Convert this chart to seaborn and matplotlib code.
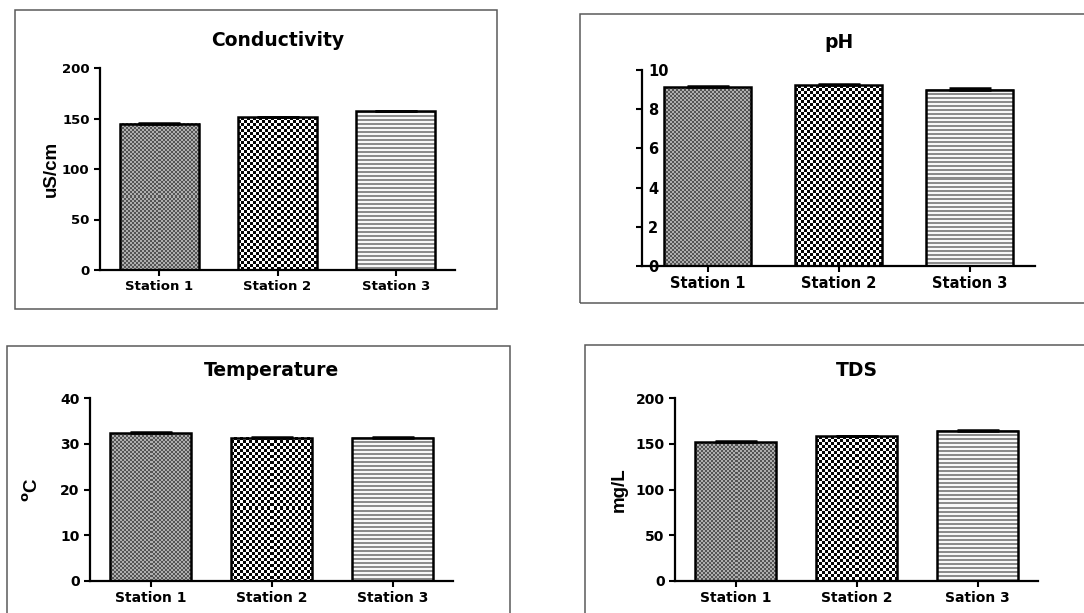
import numpy as np
import matplotlib
matplotlib.use("Agg")
import matplotlib.pyplot as plt
import seaborn as sns
from matplotlib.patches import Rectangle

# ---------------- data ----------------
stations = ["Station 1", "Station 2", "Station 3"]
stations_tds = ["Station 1", "Station 2", "Sation 3"]

cond_values = [145, 151, 157]
cond_err = [0.8, 0.7, 0.7]

ph_values = [9.12, 9.23, 8.98]
ph_err = [0.04, 0.06, 0.12]

temp_values = [32.3, 31.3, 31.3]
temp_err = [0.2, 0.15, 0.15]

tds_values = [151.5, 158, 164]
tds_err = [1.3, 0.6, 0.5]

cond_ticks = [0, 50, 100, 150, 200]
ph_ticks = [0, 2, 4, 6, 8, 10]
temp_ticks = [0, 10, 20, 30, 40]
tds_ticks = [0, 50, 100, 150, 200]

# ---------------- style ----------------
sns.set_style("ticks")
plt.rcParams["font.family"] = ["DejaVu Sans"]
plt.rcParams["axes.linewidth"] = 1.5
for key in ["text.color", "axes.labelcolor", "xtick.color", "ytick.color",
            "axes.edgecolor", "axes.titlecolor"]:
    plt.rcParams[key] = "black"

W, H = 1084, 613
fig = plt.figure(figsize=(W / 100, H / 100), dpi=100)
fig.patch.set_facecolor("white")


def px_axes(x0, x1, ytop, ybot):
    return fig.add_axes([x0 / W, 1 - ybot / H, (x1 - x0) / W, (ybot - ytop) / H])


def px_box(x0, y0, x1, y1):
    fig.add_artist(Rectangle((x0 / W, 1 - y1 / H), (x1 - x0) / W, (y1 - y0) / H,
                             transform=fig.transFigure, fill=False,
                             edgecolor="#5a5a5a", lw=1.1, zorder=0))


def texture(kind, wpx, hpx):
    yy, xx = np.mgrid[0:hpx, 0:wpx]
    if kind == 0:
        chk = (xx // 2 + yy // 2) % 2
        img = np.where(chk == 1, 0.33, 0.68)
    elif kind == 1:
        chk = (xx // 3 + yy // 3) % 2
        img = np.where(chk == 1, 0.02, 1.0)
    else:
        r = yy % 4
        img = np.where(r < 2, 0.55, 0.97)
    return img


def panel(ax, labels, values, err, ticks, title, ylabel, label_x,
          tick_fs=9.5, inside_labels=False):
    sns.barplot(x=labels, y=values, ax=ax, color="white", edgecolor="black",
                linewidth=1.8, width=0.67, saturation=1)
    ax.set_xlim(-0.5, len(labels) - 0.5)
    ax.set_ylim(ticks[0], ticks[-1])
    ax.set_yticks(ticks)
    # textures inside each bar
    for i, bar in enumerate(ax.patches):
        bar.set_facecolor("none")
        bar.set_zorder(3)
        x, w, h = bar.get_x(), bar.get_width(), bar.get_height()
        p0 = ax.transData.transform((x, 0))
        p1 = ax.transData.transform((x + w, h))
        wpx = max(int(round(abs(p1[0] - p0[0]))), 1)
        hpx = max(int(round(abs(p1[1] - p0[1]))), 1)
        ax.imshow(texture(i, wpx, hpx), cmap="gray", vmin=0, vmax=1,
                  extent=(x, x + w, 0, h), aspect="auto",
                  interpolation="nearest", origin="upper", zorder=2)
    ax.errorbar(x=np.arange(len(labels)), y=values,
                yerr=[np.zeros(len(labels)), err], fmt="none",
                ecolor="black", elinewidth=1.5, capsize=15, capthick=1.8,
                zorder=4)
    ax.set_xlim(-0.5, len(labels) - 0.5)
    ax.set_ylim(ticks[0], ticks[-1])
    sns.despine(ax=ax)
    ax.spines["left"].set_linewidth(1.6)
    ax.spines["bottom"].set_linewidth(1.6)
    ax.set_title(title, fontsize=13.5, fontweight="bold", pad=16, color="black")
    ax.tick_params(axis="both", direction="out", length=4, width=1.5,
                   colors="black", labelsize=tick_fs)
    ax.tick_params(axis="x", pad=3.5)
    for t in ax.get_xticklabels() + ax.get_yticklabels():
        t.set_fontweight("bold")
    if inside_labels:
        ax.tick_params(axis="y", pad=-8.5)
        for t in ax.get_yticklabels():
            t.set_horizontalalignment("left")
    ax.set_xlabel("")
    if ylabel:
        ax.set_ylabel(ylabel, fontsize=13.5, fontweight="bold", color="black",
                      family=["Liberation Sans", "DejaVu Sans"])
        ax.yaxis.set_label_coords(label_x, 0.5)
    else:
        ax.set_ylabel("")
    ax.set_facecolor("white")


# boxes around each panel
px_box(15, 10, 497, 309)
px_box(580, 14, 1095, 303)
px_box(7, 346, 510, 625)
px_box(585, 345, 1095, 625)

ax1 = px_axes(100, 455, 68, 270)
panel(ax1, stations, cond_values, cond_err, cond_ticks, "Conductivity",
      "uS/cm", -0.113, tick_fs=9.5)

ax2 = px_axes(642, 1035, 70, 266)
panel(ax2, stations, ph_values, ph_err, ph_ticks, "pH", None, 0,
      tick_fs=10.5, inside_labels=True)

ax3 = px_axes(90, 453, 398, 581)
panel(ax3, stations, temp_values, temp_err, temp_ticks, "Temperature",
      r"$^{\mathbf{o}}$C", -0.132, tick_fs=10)

ax4 = px_axes(675, 1038, 398, 581)
panel(ax4, stations_tds, tds_values, tds_err, tds_ticks, "TDS",
      "mg/L", -0.129, tick_fs=10)

fig.savefig("out.png", dpi=100, facecolor="white")
